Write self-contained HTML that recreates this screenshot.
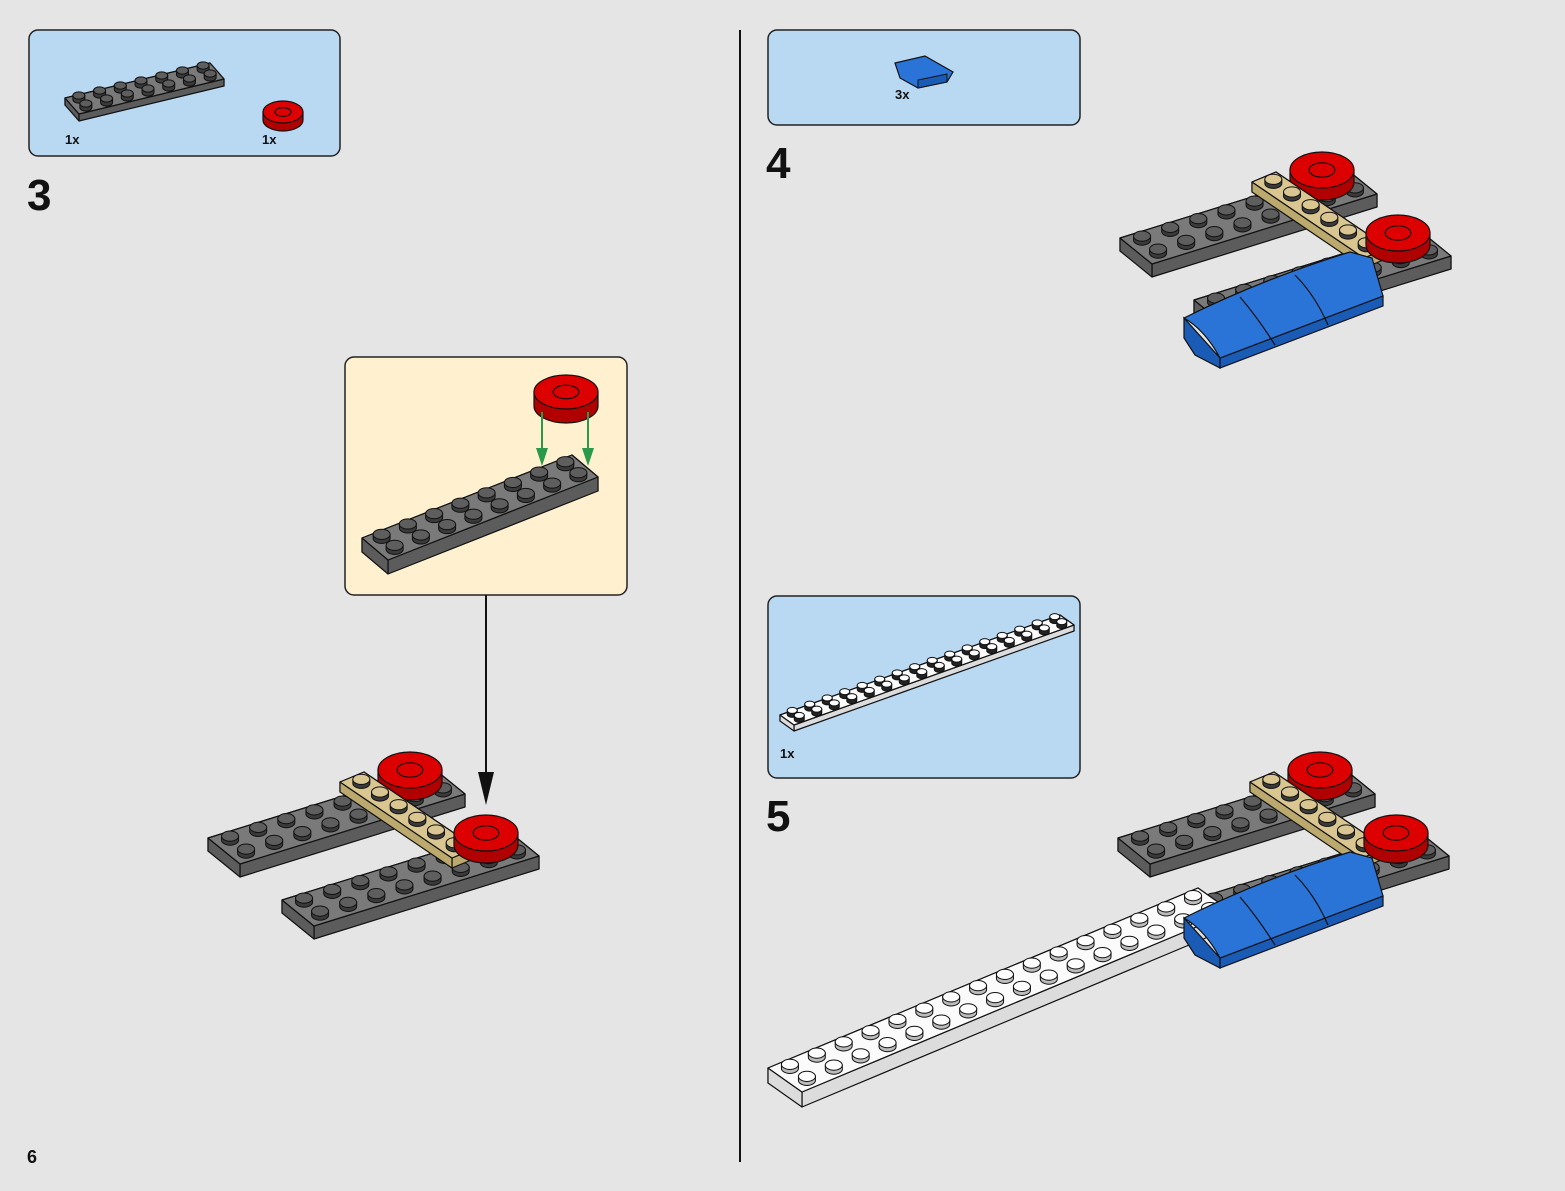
<!DOCTYPE html>
<html><head><meta charset="utf-8"><style>
html,body{margin:0;padding:0;background:#e5e5e5;}
svg{display:block;}
text{font-family:"Liberation Sans",sans-serif;font-weight:bold;fill:#111;}
</style></head><body>
<svg id="s" width="1565" height="1191" viewBox="0 0 1565 1191" xmlns="http://www.w3.org/2000/svg">
<rect width="1565" height="1191" fill="#e5e5e5"/>
<line x1="740" y1="30" x2="740" y2="1162" stroke="#111" stroke-width="2"/>
<rect x="29" y="30" width="311" height="126" rx="9" fill="#b9d8f2" stroke="#222" stroke-width="1.5"/>
<rect x="768" y="30" width="312" height="95" rx="9" fill="#b9d8f2" stroke="#222" stroke-width="1.5"/>
<rect x="768" y="596" width="312" height="182" rx="9" fill="#b9d8f2" stroke="#222" stroke-width="1.5"/>
<rect x="345" y="357" width="282" height="238" rx="9" fill="#fff0cf" stroke="#222" stroke-width="1.5"/>
<line x1="486" y1="595" x2="486" y2="780" stroke="#111" stroke-width="2"/>
<polygon points="478,772 494,772 486,805" fill="#111"/>
<text x="65" y="144" font-size="13">1x</text>
<text x="262" y="144" font-size="13">1x</text>
<text x="895" y="99" font-size="13">3x</text>
<text x="780" y="758" font-size="13">1x</text>
<text x="27" y="210" font-size="44">3</text>
<text x="766" y="178" font-size="44">4</text>
<text x="766" y="831" font-size="44">5</text>
<text x="27" y="1163" font-size="18">6</text>
<g id="g"></g>
</svg>
<script>
var g=document.getElementById('g'),NS='http://www.w3.org/2000/svg';
function el(t,a){var e=document.createElementNS(NS,t);for(var k in a)e.setAttribute(k,a[k]);g.appendChild(e);return e;}
function P(a){return a.map(function(p){return p[0].toFixed(1)+','+p[1].toFixed(1)}).join(' ');}
function add(a,b){return [a[0]+b[0],a[1]+b[1]];}
function box(c,t,top,side){
 for(var i=0;i<4;i++){var a=c[i],b=c[(i+1)%4];
  el('polygon',{points:P([a,b,[b[0],b[1]+t],[a[0],a[1]+t]]),fill:side,stroke:'#111','stroke-width':1.2,'stroke-linejoin':'round'});}
 el('polygon',{points:P(c),fill:top,stroke:'#111','stroke-width':1.2,'stroke-linejoin':'round'});
}
function stud(x,y,r,top,side){
 el('path',{d:'M'+(x-r)+','+(y-4)+' L'+(x-r)+','+y+' A'+r+','+(r*0.6)+' 0 0 0 '+(x+r)+','+y+' L'+(x+r)+','+(y-4)+' Z',fill:side,stroke:'#111','stroke-width':1});
 el('ellipse',{cx:x,cy:y-4,rx:r,ry:r*0.6,fill:top,stroke:'#111','stroke-width':1});
}
function plate(p0,U,V,nL,nW,t,top,side,stop,sside,r){
 box([p0,add(p0,U),add(add(p0,U),V),add(p0,V)],t,top,side);
 for(var j=0;j<nW;j++)for(var i=0;i<nL;i++){
  var x=p0[0]+(i+.5)/nL*U[0]+(j+.5)/nW*V[0], y=p0[1]+(i+.5)/nL*U[1]+(j+.5)/nW*V[1];
  stud(x,y,r||8,stop||top,sside||side);}
}
function tile(x,y,rx,ry,h,ring){
 el('path',{d:'M'+(x-rx)+','+(y-h)+' L'+(x-rx)+','+y+' A'+rx+','+ry+' 0 0 0 '+(x+rx)+','+y+' L'+(x+rx)+','+(y-h)+' Z',fill:'#b00000',stroke:'#111','stroke-width':1.2});
 el('ellipse',{cx:x,cy:y-h,rx:rx,ry:ry,fill:'#dd0000',stroke:'#111','stroke-width':1.2});
 if(ring)el('ellipse',{cx:x,cy:y-h,rx:rx*0.4,ry:ry*0.4,fill:'none',stroke:'#111','stroke-width':1.2});
}
var GT='#7a7a7a',GS='#5c5c5c',GST='#5e5e5e';
function model(dx,dy,white){
 function o(p){return [p[0]+dx,p[1]+dy];}
 plate(o([208,838]),[225,-70],[32,26],8,2,13,GT,GS,GST,'#3a3a3a',8.5);
 tile(410+dx,782+dy,32,18,12,true);
 plate(o([282,900]),[225,-70],[32,26],8,2,13,GT,GS,GST,'#3a3a3a',8.5);
 if(white){
  plate([768,1068],[430,-180],[34,24],16,2,15,'#fbfbfb','#dcdcdc','#fdfdfd','#bbb',8.5);
 }
 var a=o([340,782]),b=o([364,772]),c=o([476,848]),d=o([452,858]);
 box([a,b,c,d],10,'#d9c690','#bca96e');
 for(var i=0;i<6;i++){stud(a[0]+12+(i+.5)/6*112,a[1]-5+(i+.5)/6*76,8.5,'#d9c690','#3a3a3a');}
 tile(486+dx,845+dy,32,18,12,true);
}
model(0,0,false);
model(912,-600,false);
function blue(dy){
 el('polygon',{points:P([[1184,318+dy],[1184,338+dy],[1195,355+dy],[1220,368+dy],[1220,358+dy]]),fill:'#1a5bb5',stroke:'#111','stroke-width':1.2});
 el('polygon',{points:P([[1220,358+dy],[1383,296+dy],[1383,306+dy],[1220,368+dy]]),fill:'#1a5bb5',stroke:'#111','stroke-width':1.2});
 el('path',{d:'M1184,'+(318+dy)+' Q1260,'+(280+dy)+' 1350,'+(252+dy)+' L1372,'+(258+dy)+' L1383,'+(296+dy)+' L1220,'+(358+dy)+' Q1205,'+(330+dy)+' 1184,'+(318+dy)+' Z',fill:'#2a74d8',stroke:'#111','stroke-width':1.2});
 el('path',{d:'M1240,'+(297+dy)+' Q1258,'+(318+dy)+' 1275,'+(345+dy),fill:'none',stroke:'#111','stroke-width':1.2});
 el('path',{d:'M1295,'+(275+dy)+' Q1315,'+(295+dy)+' 1328,'+(325+dy),fill:'none',stroke:'#111','stroke-width':1.2});
}
blue(0);
model(910,0,true);
blue(600);
plate([362,538],[210,-83],[26,22],8,2,14,GT,GS,GST,'#3a3a3a',8.5);
tile(566,406,32,17,14,true);
el('line',{x1:542,y1:412,x2:542,y2:452,stroke:'#2a9a4a','stroke-width':2});
el('polygon',{points:'536,448 548,448 542,466',fill:'#2a9a4a'});
el('line',{x1:588,y1:412,x2:588,y2:452,stroke:'#2a9a4a','stroke-width':2});
el('polygon',{points:'582,448 594,448 588,466',fill:'#2a9a4a'});
plate([65,98],[145,-35],[14,16],7,2,7,GT,GS,GST,'#3a3a3a',6);
tile(283,120,20,11,8,true);
el('polygon',{points:'895,63 925,56 953,72 947,82 918,88 900,78',fill:'#2a74d8',stroke:'#111','stroke-width':1.2});
el('polygon',{points:'918,80 947,74 947,82 918,88',fill:'#1a5bb5',stroke:'#111','stroke-width':1});
plate([780,715],[280,-100],[14,10],16,2,6,'#fbfbfb','#dcdcdc','#fdfdfd','#222',5);
</script>
</body></html>
